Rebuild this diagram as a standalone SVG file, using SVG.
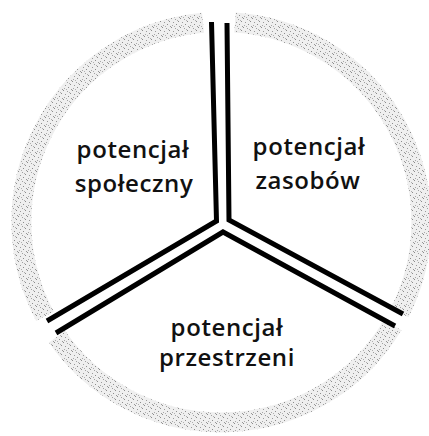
<svg xmlns="http://www.w3.org/2000/svg" width="429" height="436" viewBox="0 0 429 436">
  <defs>
    <pattern id="stip" width="9" height="9" patternUnits="userSpaceOnUse">
      <rect width="9" height="9" fill="#efefef"/>
      <rect x="0" y="0" width="1" height="1" fill="#8c8c8c"/>
      <rect x="4" y="1" width="1" height="1" fill="#a0a0a0"/>
      <rect x="7" y="3" width="1" height="1" fill="#8c8c8c"/>
      <rect x="2" y="4" width="1" height="1" fill="#9a9a9a"/>
      <rect x="5" y="6" width="1" height="1" fill="#8c8c8c"/>
      <rect x="1" y="7" width="1" height="1" fill="#a8a8a8"/>
      <rect x="8" y="8" width="1" height="1" fill="#999"/>
      <rect x="6" y="2" width="1" height="1" fill="#b0b0b0"/>
      <rect x="3" y="8" width="1" height="1" fill="#b0b0b0"/>
    </pattern>
  </defs>
  <style>
    .ring { fill: none; stroke: url(#stip); stroke-width: 20; }
    .bar { fill: none; stroke: #000; stroke-width: 5; stroke-linejoin: miter; stroke-linecap: butt; }
    .lbl { font-family: "Open Sans", "Noto Sans", sans-serif; font-size: 24px; font-weight: 600; letter-spacing: 0.6px; fill: #111; text-anchor: middle; }
  </style>
  <rect width="429" height="436" fill="#fff"/>
  <g id="ring">
    <path class="ring" d="M 235.0 22.5 A 200 200 0 0 1 399.6 312.8"/>
    <path class="ring" d="M 392.8 325.0 A 200 200 0 0 1 57.0 336.7"/>
    <path class="ring" d="M 45.0 316.3 A 200 200 0 0 1 203.0 22.8"/>
  </g>
  <g id="connectors">
    <path class="bar" d="M 211.5 22 L 216.5 221 L 47 321"/>
    <path class="bar" d="M 227 23 L 229 220 L 403 314"/>
    <path class="bar" d="M 56 333 L 223 232 L 395 326"/>
  </g>
  <g id="potencjal-spoleczny">
    <text class="lbl" x="133" y="158">potencjał</text>
    <text class="lbl" x="134" y="192">społeczny</text>
  </g>
  <g id="potencjal-zasobow">
    <text class="lbl" x="309" y="155">potencjał</text>
    <text class="lbl" x="308" y="189">zasobów</text>
  </g>
  <g id="potencjal-przestrzeni">
    <text class="lbl" x="227" y="336">potencjał</text>
    <text class="lbl" x="227" y="366">przestrzeni</text>
  </g>
</svg>
